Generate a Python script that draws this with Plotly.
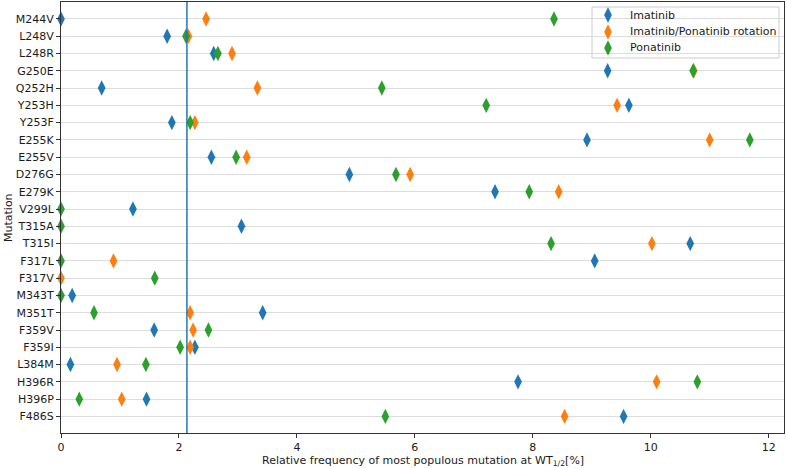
import plotly.graph_objects as go

mutations = ["M244V", "L248V", "L248R", "G250E", "Q252H", "Y253H", "Y253F", "E255K", "E255V",
             "D276G", "E279K", "V299L", "T315A", "T315I", "F317L", "F317V", "M343T", "M351T",
             "F359V", "F359I", "L384M", "H396R", "H396P", "F486S"]

imatinib = [0.0, 1.80, 2.59, 9.27, 0.69, 9.63, 1.88, 8.92, 2.55,
            4.89, 7.36, 1.22, 3.06, 10.67, 9.05, None, 0.19, 3.42,
            1.58, 2.27, 0.16, 7.75, 1.45, 9.54]
rotation = [2.46, 2.16, 2.90, 10.73, 3.33, 9.43, 2.27, 11.00, 3.15,
            5.92, 8.44, None, None, 10.02, 0.89, 0.0, None, 2.19,
            2.24, 2.19, 0.95, 10.10, 1.03, 8.54]
ponatinib = [8.36, 2.12, 2.66, 10.72, 5.44, 7.21, 2.19, 11.68, 2.97,
             5.68, 7.94, 0.0, 0.0, 8.31, 0.0, 1.59, 0.0, 0.56,
             2.50, 2.02, 1.44, 10.79, 0.31, 5.50]
threshold = 2.135

series_names = ["Imatinib", "Imatinib/Ponatinib rotation", "Ponatinib"]
series_values = [imatinib, rotation, ponatinib]
series_colors = ["#1f77b4", "#ff7f0e", "#2ca02c"]

W, H = 788, 468
L, R, T, B = 61, 4, 2, 35
PX0, PX1, PY0, PY1 = L, W - R, T, H - B   # plot area in pixels

fig = go.Figure()
for name, vals, color in zip(series_names, series_values, series_colors):
    xs = [v for v in vals if v is not None]
    ys = [i for i, v in enumerate(vals) if v is not None]
    fig.add_trace(go.Scatter(x=xs, y=ys, mode="markers", name=name, showlegend=False,
                             marker=dict(symbol="diamond-tall", size=11, color=color,
                                         line=dict(width=0)),
                             cliponaxis=False))

fig.add_vline(x=threshold, line=dict(color="#1f77b4", width=1.5))

# custom legend (pixel layout on a hidden overlay axis)
leg_box = (592, 779, 7, 58)
leg_marker_x = 608
leg_text_x = 628
leg_rows = [15, 32, 48]

def px2paper_x(p):
    return (p - PX0) / (PX1 - PX0)

def px2paper_y(p):
    return (PY1 - p) / (PY1 - PY0)

fig.add_shape(type="rect", xref="paper", yref="paper",
              x0=px2paper_x(leg_box[0]), x1=px2paper_x(leg_box[1]),
              y0=px2paper_y(leg_box[3]), y1=px2paper_y(leg_box[2]),
              line=dict(color="#cccccc", width=1), fillcolor="rgba(255,255,255,0.85)",
              layer="between")

annotations = []
for name, color, ry in zip(series_names, series_colors, leg_rows):
    fig.add_trace(go.Scatter(x=[leg_marker_x], y=[ry], xaxis="x2", yaxis="y2",
                             mode="markers", showlegend=False, hoverinfo="skip",
                             marker=dict(symbol="diamond-tall", size=11, color=color,
                                         line=dict(width=0)), cliponaxis=False))
    annotations.append(dict(text=name, xref="paper", yref="paper",
                            x=px2paper_x(leg_text_x), y=px2paper_y(ry),
                            xanchor="left", yanchor="middle", showarrow=False,
                            font=dict(size=11)))

annotations += [
    dict(text="Relative frequency of most populous mutation at WT<sub>1/2</sub>[%]",
         xref="paper", yref="paper", x=0.5, y=0, yshift=-19, xanchor="center",
         yanchor="top", showarrow=False, font=dict(size=11)),
    dict(text="Mutation", xref="paper", yref="paper", x=0, xshift=-61, y=0.5,
         xanchor="left", yanchor="middle", textangle=-90, showarrow=False,
         font=dict(size=11)),
]

n = len(mutations)
fig.update_layout(
    width=W, height=H,
    margin=dict(l=L, r=R, t=T, b=B),
    paper_bgcolor="white", plot_bgcolor="white",
    font=dict(family="DejaVu Sans", size=11, color="#1a1a1a"),
    showlegend=False,
    xaxis=dict(range=[0, 12.26], tickvals=[0, 2, 4, 6, 8, 10, 12],
               showgrid=False, zeroline=False, showline=True, linecolor="#333",
               linewidth=1, mirror=True, ticks="outside", ticklen=4, tickcolor="#333",
               automargin=False),
    yaxis=dict(range=[n - 1 + 0.96, -0.98], tickvals=list(range(n)), ticktext=mutations,
               showgrid=True, gridcolor="#dddddd", gridwidth=1.2, zeroline=False,
               showline=True, linecolor="#333", linewidth=1, mirror=True,
               ticks="outside", ticklen=4, tickcolor="#333", automargin=False),
    xaxis2=dict(overlaying="x", range=[PX0, PX1], visible=False, fixedrange=True),
    yaxis2=dict(overlaying="y", range=[PY1, PY0], visible=False, fixedrange=True),
    annotations=annotations,
)

fig.write_html("out.html", config={"displayModeBar": False},
               post_script="document.body.style.margin='0';")
